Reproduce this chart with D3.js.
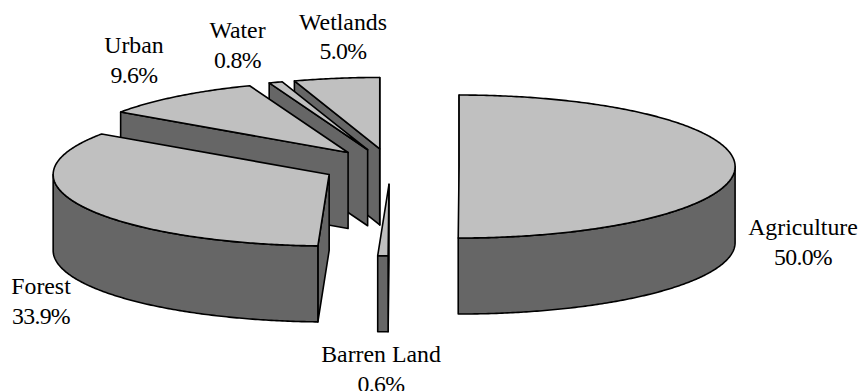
<!DOCTYPE html>
<html>
<head>
<meta charset="utf-8">
<style>
  html, body { margin: 0; padding: 0; background: #fff; }
  text { font-family: "Liberation Serif", serif; font-size: 23.8px; fill: #000; }
  .share { letter-spacing: -0.7px; }
</style>
<script src="https://cdn.jsdelivr.net/npm/d3@7/dist/d3.min.js"></script>
</head>
<body>
<svg id="chart" width="860" height="391" style="display:block"></svg>
<script>
// Land cover shares, clockwise from twelve o'clock
const categories = ["Agriculture", "Barren Land", "Forest", "Urban", "Water", "Wetlands"];
const shares = [50.0, 0.6, 33.9, 9.6, 0.8, 5.0];

// Label anchor (centre x, first baseline) for each category
const labelAnchors = [[803, 235], [381, 362], [41, 294], [134, 53], [237.5, 38], [343, 29.5]];

// Back-to-front painting order (indices into categories)
const paintOrder = [5, 4, 3, 2, 0, 1];

const topFill = "#c0c0c0";
const wallFill = "#666666";
const explode = 0.2485;
const thickness = 76;
const lineGap = 29.5;

const svg = d3.select("#chart");

// Unit circle -> foreshortened pie plane
const px = d3.scaleLinear().domain([-1, 1]).range([390.5 - 276, 390.5 + 276]);
const py = d3.scaleLinear().domain([-1, 1]).range([166.5 - 71.5, 166.5 + 71.5]);

const slices = d3.pie().sort(null).startAngle(0).endAngle(2 * Math.PI)(shares);
const line = d3.line();

function sampleArc(a0, a1) {
  const n = Math.max(2, Math.ceil((a1 - a0) / 0.01));
  return d3.range(n + 1).map(i => a0 + (a1 - a0) * i / n);
}

function drawSlice(s) {
  const mid = (s.startAngle + s.endAngle) / 2;
  const ox = explode * Math.sin(mid);
  const oy = -explode * Math.cos(mid);
  const at = (r, a) => [px(ox + r * Math.sin(a)), py(oy - r * Math.cos(a))];
  const drop = ([x, y]) => [x, y + thickness];
  const apex = at(0, 0);
  const g = svg.append("g").attr("stroke", "#000").attr("stroke-width", 1.6).attr("stroke-linejoin", "round");

  // Cut faces: only those turned towards the viewer
  const face = a => {
    const p = at(1, a);
    g.append("path").attr("fill", wallFill)
      .attr("d", line([apex, p, drop(p), drop(apex)]) + "Z");
  };
  if (Math.sin(s.startAngle) <= 1e-9) face(s.startAngle);
  if (Math.sin(s.endAngle) >= -1e-9) face(s.endAngle);

  // Outer wall: the part of the rim on the near side
  const w0 = Math.max(s.startAngle, Math.PI / 2);
  const w1 = Math.min(s.endAngle, 3 * Math.PI / 2);
  if (w1 > w0) {
    const rim = sampleArc(w0, w1).map(a => at(1, a));
    g.append("path").attr("fill", wallFill)
      .attr("d", line(rim.concat(rim.map(drop).reverse())) + "Z");
  }

  // Top surface
  const top = [apex].concat(sampleArc(s.startAngle, s.endAngle).map(a => at(1, a)));
  g.append("path").attr("fill", topFill).attr("d", line(top) + "Z");
}

paintOrder.forEach(i => drawSlice(slices[i]));

// Two-line labels: name above, share below
categories.forEach((name, i) => {
  const [x, y] = labelAnchors[i];
  const t = svg.append("text").attr("text-anchor", "middle");
  t.append("tspan").attr("x", x).attr("y", y).text(name);
  t.append("tspan").attr("class", "share").attr("x", x).attr("y", y + lineGap).text(shares[i].toFixed(1) + "%");
});
</script>
</body>
</html>
